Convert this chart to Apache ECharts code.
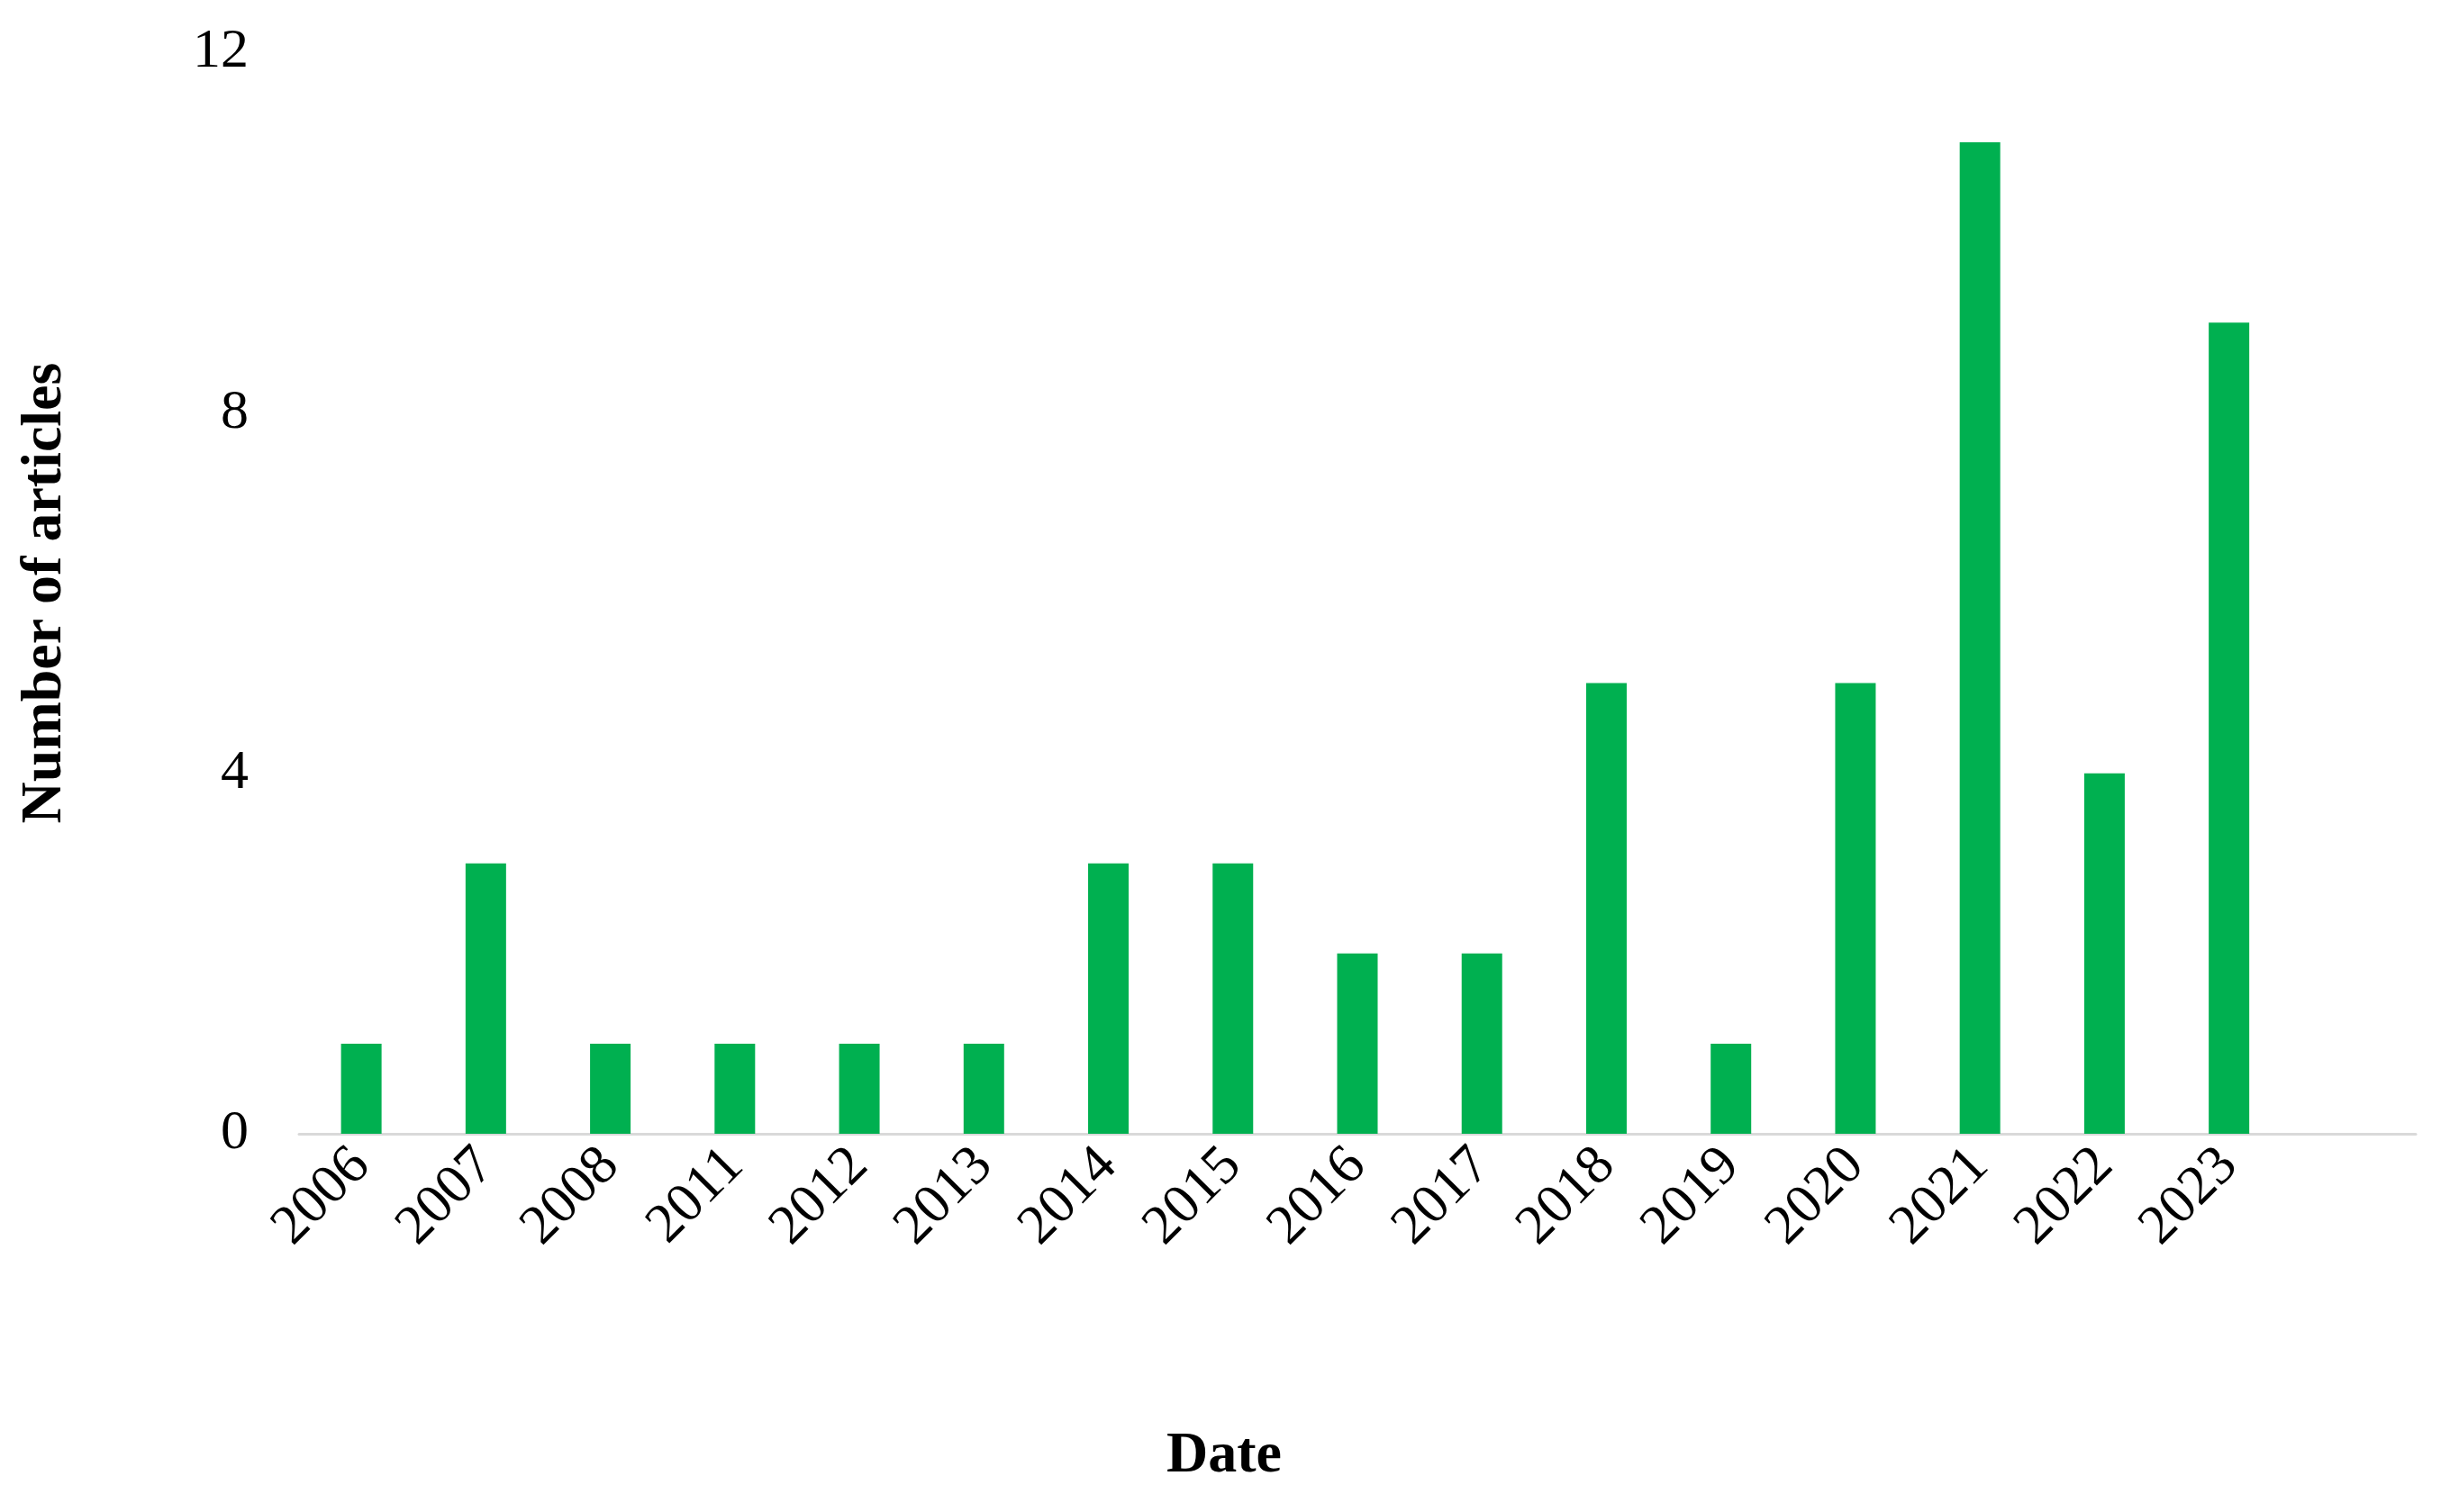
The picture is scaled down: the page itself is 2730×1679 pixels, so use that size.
<!DOCTYPE html>
<html lang="en">
  <head>
    <meta charset="UTF-8" />
    <title>Number of articles by date</title>
    <script src="https://cdn.jsdelivr.net/npm/echarts@6/dist/echarts.min.js"></script>
    <style>
      html, body { margin: 0; padding: 0; background: #fff; }
      #main { width: 2730px; height: 1679px; }
    </style>
  </head>
  <body>
    <div id="main"></div>
    <script>
      // the last empty slot keeps the axis running past 2023 as in the source
      const years = ['2006', '2007', '2008', '2011', '2012', '2013', '2014', '2015',
        '2016', '2017', '2018', '2019', '2020', '2021', '2022', '2023', ''];
      const articles = [1, 3, 1, 1, 1, 1, 3, 3, 2, 2, 5, 1, 5, 11, 4, 9, null];
      const yTicks = [0, 4, 8, 12];

      const font = '"Liberation Serif", "Times New Roman", serif';

      const chart = echarts.init(document.getElementById('main'));
      chart.setOption({
        animation: false,
        grid: { left: 332, right: 48, top: 58, bottom: 420 },
        graphic: [
          {
            type: 'text',
            left: 1370 - 75,
            top: 1585,
            style: { text: 'Date', font: 'bold 64px ' + font, fill: '#000' }
          }
        ],
        xAxis: {
          type: 'category',
          data: years,
          axisLine: { lineStyle: { color: '#d9d9d9', width: 3 } },
          axisTick: { show: false },
          axisLabel: {
            rotate: 45, margin: 26, fontFamily: font, fontSize: 62, color: '#000'
          }
        },
        yAxis: {
          type: 'value',
          min: yTicks[0],
          max: yTicks[yTicks.length - 1],
          interval: 4,
          axisLine: { show: false },
          axisTick: { show: false },
          splitLine: { show: false },
          axisLabel: { margin: 56, fontFamily: font, fontSize: 62, color: '#000' },
          name: 'Number of articles',
          nameLocation: 'middle',
          nameGap: 250,
          nameTextStyle: { fontFamily: font, fontSize: 64, fontWeight: 'bold', color: '#000' }
        },
        series: [
          {
            type: 'bar',
            data: articles,
            barWidth: 45,
            itemStyle: { color: '#00B050' }
          }
        ]
      });
    </script>
  </body>
</html>
